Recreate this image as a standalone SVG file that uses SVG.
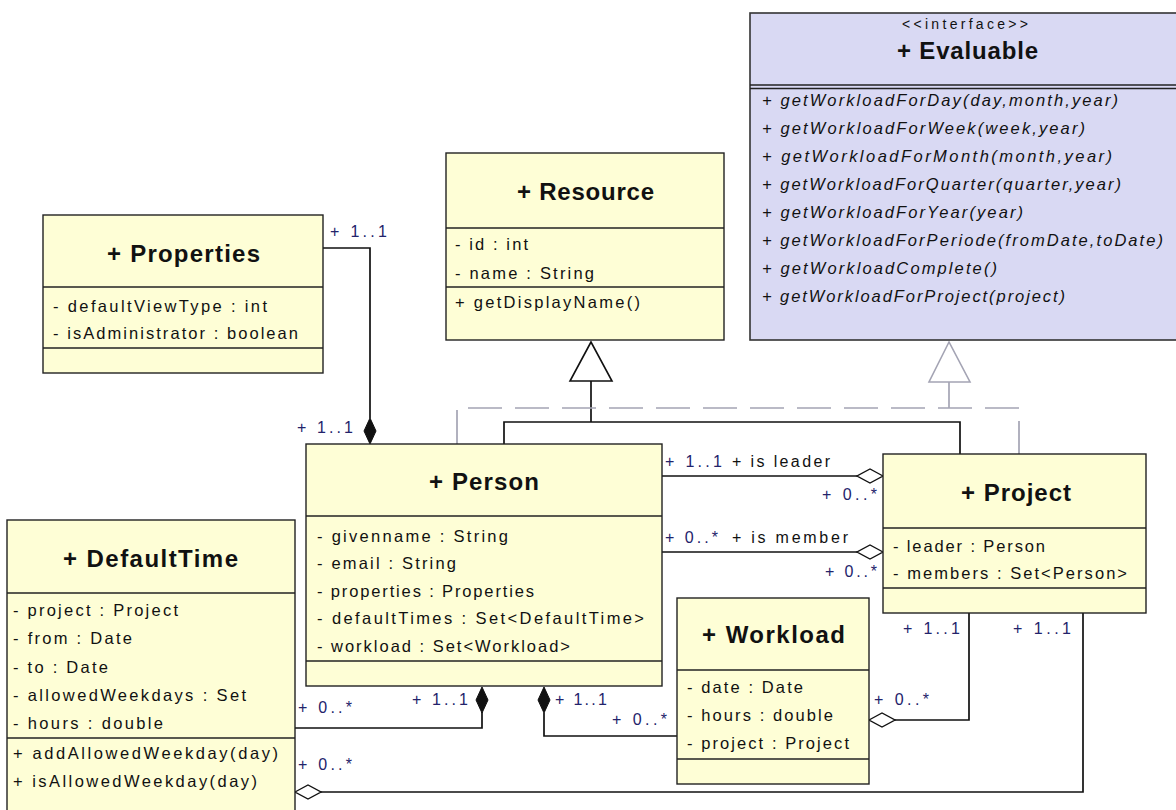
<svg xmlns="http://www.w3.org/2000/svg" width="1176" height="810" viewBox="0 0 1176 810">
  <style>
    .cls { fill: #fefed6; stroke: #222; stroke-width: 1.4; }
    .ifc { fill: #d9d9f3; stroke: #333; stroke-width: 1.6; }
    .sep { stroke: #222; stroke-width: 1.4; fill: none; }
    .title { font-family: "Liberation Sans", Arial, sans-serif; font-weight: bold; font-size: 24px; fill: #111; }
    .attr { font-family: "Liberation Sans", Arial, sans-serif; font-size: 16.5px; fill: #111; }
    .op { font-family: "Liberation Sans", Arial, sans-serif; font-size: 16.5px; font-style: italic; fill: #111; }
    .stereo { font-family: "Liberation Sans", Arial, sans-serif; font-size: 14px; fill: #111; }
    .mult { font-family: "Liberation Sans", Arial, sans-serif; font-size: 16px; fill: #23236b; }
    .role { font-family: "Liberation Sans", Arial, sans-serif; font-size: 16px; fill: #111; }
    .line { stroke: #111; stroke-width: 1.7; fill: none; }
    .dash { stroke: #a4a4b4; stroke-width: 1.7; fill: none; stroke-dasharray: 34 13; }
    .solid-grey { stroke: #a4a4b4; stroke-width: 1.7; fill: none; }
    .comp { fill: #111; stroke: #111; stroke-width: 1; }
    .aggr { fill: #fff; stroke: #111; stroke-width: 1.4; }
  </style>

  <rect width="1176" height="810" fill="#ffffff"/>

  <!-- Connectors -->
  <g id="connectors">
    <!-- Properties to Person (composition) -->
    <path class="line" d="M323,248 H370 V418"/>
    <polygon class="comp" points="370,444 376,431 370,418 364,431"/>

    <!-- Person / Project generalization to Resource -->
    <path class="line" d="M504,444 V422 H960 V454"/>
    <path class="line" d="M591,422 V381"/>
    <polygon points="591,342 570,381 612,381" fill="#fff" stroke="#111" stroke-width="1.6"/>

    <!-- Person / Project realization of Evaluable -->
    <path class="dash" d="M457,444 V408 H1019 V454"/>
    <path class="solid-grey" d="M949,408 V382"/>
    <polygon points="949,342 929,382 970,382" fill="#fff" stroke="#a4a4b4" stroke-width="1.6"/>

    <!-- is leader -->
    <path class="line" d="M662,476 H857"/>
    <polygon class="aggr" points="883,476 870,469 857,476 870,483"/>

    <!-- is member -->
    <path class="line" d="M662,552 H857"/>
    <polygon class="aggr" points="883,552 870,545 857,552 870,559"/>

    <!-- Person to DefaultTime (composition) -->
    <path class="line" d="M295,728 H482 V712"/>
    <polygon class="comp" points="482,687 488,700 482,713 476,700"/>

    <!-- Person to Workload (composition) -->
    <path class="line" d="M544,713 V736 H677"/>
    <polygon class="comp" points="544,687 550,700 544,713 538,700"/>

    <!-- Project to Workload -->
    <path class="line" d="M969,613 V720 H895"/>
    <polygon class="aggr" points="869,720 882,713 895,720 882,727"/>

    <!-- Project to DefaultTime -->
    <path class="line" d="M1083,613 V792 H321"/>
    <polygon class="aggr" points="295,792 308,785 321,792 308,799"/>
  </g>

  <!-- Multiplicities and roles -->
  <g id="labels">
    <text class="mult" x="330" y="237" textLength="57" lengthAdjust="spacing">+ 1..1</text>
    <text class="mult" x="297" y="433" textLength="56" lengthAdjust="spacing">+ 1..1</text>
    <text class="mult" x="665" y="467" textLength="57" lengthAdjust="spacing">+ 1..1</text>
    <text class="role" x="732" y="467" textLength="98" lengthAdjust="spacing">+ is leader</text>
    <text class="mult" x="822" y="500" textLength="55" lengthAdjust="spacing">+ 0..*</text>
    <text class="mult" x="665" y="543" textLength="53" lengthAdjust="spacing">+ 0..*</text>
    <text class="role" x="732" y="543" textLength="116" lengthAdjust="spacing">+ is member</text>
    <text class="mult" x="825" y="577" textLength="52" lengthAdjust="spacing">+ 0..*</text>
    <text class="mult" x="903" y="634" textLength="57" lengthAdjust="spacing">+ 1..1</text>
    <text class="mult" x="1013" y="634" textLength="58" lengthAdjust="spacing">+ 1..1</text>
    <text class="mult" x="874" y="705" textLength="55" lengthAdjust="spacing">+ 0..*</text>
    <text class="mult" x="298" y="713" textLength="54" lengthAdjust="spacing">+ 0..*</text>
    <text class="mult" x="412" y="705" textLength="56" lengthAdjust="spacing">+ 1..1</text>
    <text class="mult" x="555" y="705" textLength="52" lengthAdjust="spacing">+ 1..1</text>
    <text class="mult" x="612" y="725" textLength="55" lengthAdjust="spacing">+ 0..*</text>
    <text class="mult" x="298" y="770" textLength="54" lengthAdjust="spacing">+ 0..*</text>
  </g>

  <!-- Evaluable interface -->
  <g id="evaluable">
    <rect class="ifc" x="750" y="13" width="432" height="327"/>
    <line class="sep" x1="750" y1="85" x2="1182" y2="85"/>
    <line class="sep" x1="750" y1="88.5" x2="1182" y2="88.5"/>
    <text class="stereo" x="902" y="29" textLength="126" lengthAdjust="spacing">&lt;&lt;interface&gt;&gt;</text>
    <text class="title" x="897" y="59" textLength="141" lengthAdjust="spacing">+ Evaluable</text>
    <text class="op" x="762" y="106" textLength="356" lengthAdjust="spacing">+ getWorkloadForDay(day,month,year)</text>
    <text class="op" x="762" y="134" textLength="323" lengthAdjust="spacing">+ getWorkloadForWeek(week,year)</text>
    <text class="op" x="762" y="162" textLength="350" lengthAdjust="spacing">+ getWorkloadForMonth(month,year)</text>
    <text class="op" x="762" y="190" textLength="359" lengthAdjust="spacing">+ getWorkloadForQuarter(quarter,year)</text>
    <text class="op" x="762" y="218" textLength="261" lengthAdjust="spacing">+ getWorkloadForYear(year)</text>
    <text class="op" x="762" y="246" textLength="401" lengthAdjust="spacing">+ getWorkloadForPeriode(fromDate,toDate)</text>
    <text class="op" x="762" y="274" textLength="235" lengthAdjust="spacing">+ getWorkloadComplete()</text>
    <text class="op" x="762" y="302" textLength="303" lengthAdjust="spacing">+ getWorkloadForProject(project)</text>
  </g>

  <!-- Resource -->
  <g id="resource">
    <rect class="cls" x="446" y="153" width="278" height="187"/>
    <line class="sep" x1="446" y1="228" x2="724" y2="228"/>
    <line class="sep" x1="446" y1="287" x2="724" y2="287"/>
    <text class="title" x="517" y="200" textLength="137" lengthAdjust="spacing">+ Resource</text>
    <text class="attr" x="455" y="250" textLength="73" lengthAdjust="spacing">- id : int</text>
    <text class="attr" x="455" y="279" textLength="139" lengthAdjust="spacing">- name : String</text>
    <text class="attr" x="455" y="308" textLength="185" lengthAdjust="spacing">+ getDisplayName()</text>
  </g>

  <!-- Properties -->
  <g id="properties">
    <rect class="cls" x="43" y="215" width="280" height="158"/>
    <line class="sep" x1="43" y1="287" x2="323" y2="287"/>
    <line class="sep" x1="43" y1="348" x2="323" y2="348"/>
    <text class="title" x="107" y="262" textLength="153" lengthAdjust="spacing">+ Properties</text>
    <text class="attr" x="53" y="312" textLength="214" lengthAdjust="spacing">- defaultViewType : int</text>
    <text class="attr" x="53" y="339" textLength="245" lengthAdjust="spacing">- isAdministrator : boolean</text>
  </g>

  <!-- Person -->
  <g id="person">
    <rect class="cls" x="306" y="444" width="356" height="242"/>
    <line class="sep" x1="306" y1="516" x2="662" y2="516"/>
    <line class="sep" x1="306" y1="661" x2="662" y2="661"/>
    <text class="title" x="429" y="490" textLength="110" lengthAdjust="spacing">+ Person</text>
    <text class="attr" x="317" y="542" textLength="191" lengthAdjust="spacing">- givenname : String</text>
    <text class="attr" x="317" y="569" textLength="139" lengthAdjust="spacing">- email : String</text>
    <text class="attr" x="317" y="597" textLength="217" lengthAdjust="spacing">- properties : Properties</text>
    <text class="attr" x="317" y="624" textLength="327" lengthAdjust="spacing">- defaultTimes : Set&lt;DefaultTime&gt;</text>
    <text class="attr" x="317" y="652" textLength="253" lengthAdjust="spacing">- workload : Set&lt;Workload&gt;</text>
  </g>

  <!-- Project -->
  <g id="project">
    <rect class="cls" x="883" y="454" width="263" height="159"/>
    <line class="sep" x1="883" y1="528" x2="1146" y2="528"/>
    <line class="sep" x1="883" y1="588" x2="1146" y2="588"/>
    <text class="title" x="961" y="501" textLength="110" lengthAdjust="spacing">+ Project</text>
    <text class="attr" x="893" y="552" textLength="152" lengthAdjust="spacing">- leader : Person</text>
    <text class="attr" x="893" y="579" textLength="234" lengthAdjust="spacing">- members : Set&lt;Person&gt;</text>
  </g>

  <!-- DefaultTime -->
  <g id="defaulttime">
    <rect class="cls" x="7" y="520" width="288" height="300"/>
    <line class="sep" x1="7" y1="593" x2="295" y2="593"/>
    <line class="sep" x1="7" y1="738" x2="295" y2="738"/>
    <text class="title" x="63" y="567" textLength="175" lengthAdjust="spacing">+ DefaultTime</text>
    <text class="attr" x="13" y="616" textLength="165" lengthAdjust="spacing">- project : Project</text>
    <text class="attr" x="13" y="644" textLength="119" lengthAdjust="spacing">- from : Date</text>
    <text class="attr" x="13" y="673" textLength="95" lengthAdjust="spacing">- to : Date</text>
    <text class="attr" x="13" y="701" textLength="233" lengthAdjust="spacing">- allowedWeekdays : Set</text>
    <text class="attr" x="13" y="729" textLength="150" lengthAdjust="spacing">- hours : double</text>
    <text class="attr" x="13" y="759" textLength="265" lengthAdjust="spacing">+ addAllowedWeekday(day)</text>
    <text class="attr" x="13" y="787" textLength="244" lengthAdjust="spacing">+ isAllowedWeekday(day)</text>
  </g>

  <!-- Workload -->
  <g id="workload">
    <rect class="cls" x="677" y="598" width="192" height="186"/>
    <line class="sep" x1="677" y1="670" x2="869" y2="670"/>
    <line class="sep" x1="677" y1="759" x2="869" y2="759"/>
    <text class="title" x="702" y="643" textLength="143" lengthAdjust="spacing">+ Workload</text>
    <text class="attr" x="687" y="693" textLength="116" lengthAdjust="spacing">- date : Date</text>
    <text class="attr" x="687" y="721" textLength="146" lengthAdjust="spacing">- hours : double</text>
    <text class="attr" x="687" y="749" textLength="162" lengthAdjust="spacing">- project : Project</text>
  </g>
</svg>
